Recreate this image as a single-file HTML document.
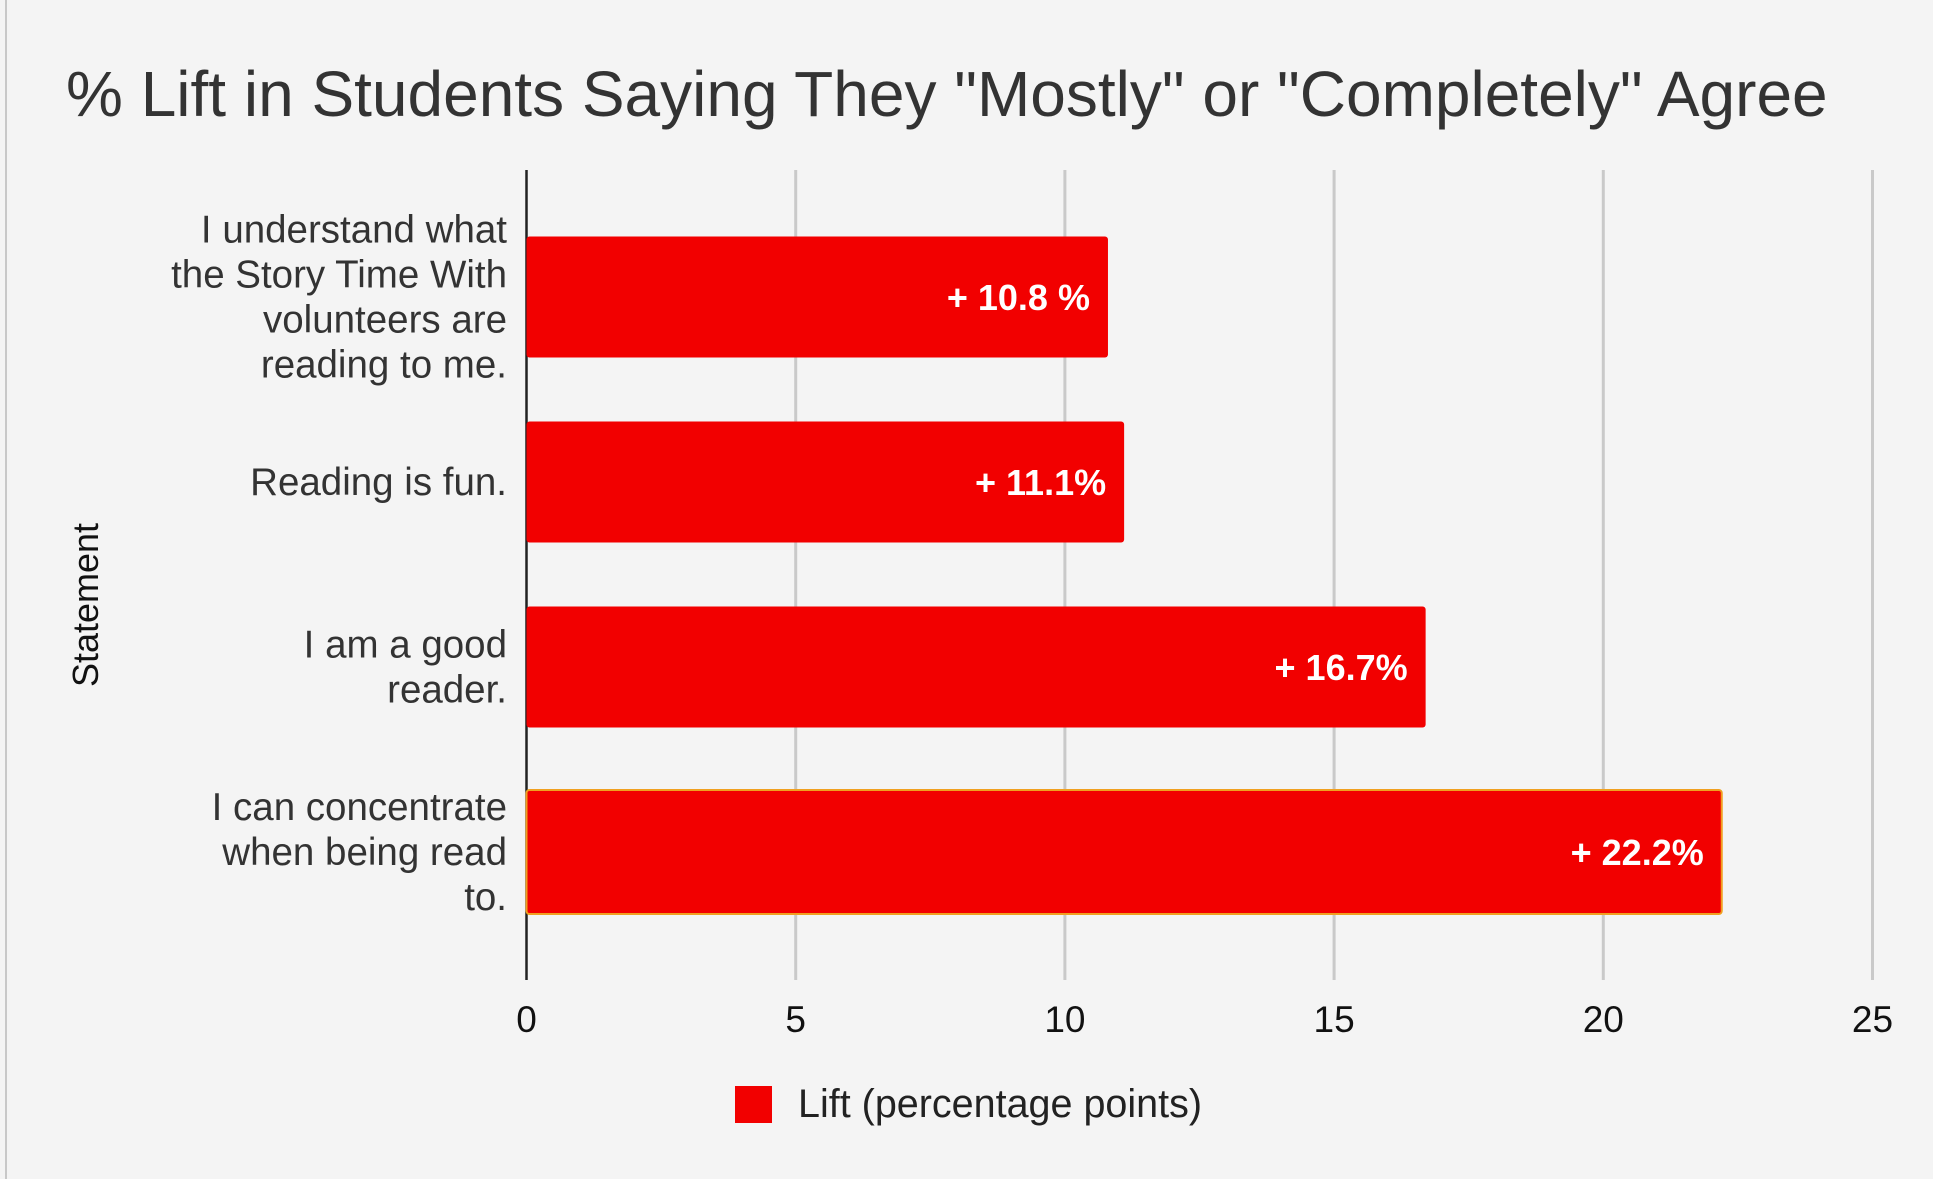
<!DOCTYPE html>
<html><head><meta charset="utf-8"><style>
html,body{margin:0;padding:0;background:#f4f4f4;}
svg{display:block;font-family:"Liberation Sans",Arial,sans-serif;}
</style></head><body>
<svg id="chart" width="1933" height="1179" viewBox="0 0 1933 1179">
<rect x="0" y="0" width="1933" height="1179" fill="#f4f4f4"/>
<line x1="6" y1="0" x2="6" y2="1179" stroke="#c8c8c8" stroke-width="2"/>
<text x="66" y="116" font-size="64" fill="#333">% Lift in Students Saying They "Mostly" or "Completely" Agree</text>
<text transform="translate(98,605) rotate(-90)" text-anchor="middle" font-size="36" fill="#111">Statement</text>
<g id="grid"></g><g id="bars"></g><g id="cats"></g><g id="ticks"></g>
<rect x="735" y="1086" width="37" height="37" fill="#f20000"/>
<text x="798" y="1117" font-size="39.5" fill="#222">Lift (percentage points)</text>
</svg>
<script>
const categories=[["I understand what","the Story Time With","volunteers are","reading to me."],["Reading is fun."],["I am a good","reader."],["I can concentrate","when being read","to."]];
const values=[10.8,11.1,16.7,22.2];
const valueLabels=["+ 10.8 %","+ 11.1%","+ 16.7%","+ 22.2%"];
const ticks=[0,5,10,15,20,25];
const NS="http://www.w3.org/2000/svg";
const x0=526.5,x1=1872.5,yTop=170,yBot=980;
const xs=v=>x0+(x1-x0)*v/25;
const yc=i=>297+185*i;
function mk(t,a,p){const e=document.createElementNS(NS,t);for(const k in a)e.setAttribute(k,a[k]);p.appendChild(e);return e;}
const grid=document.getElementById('grid'),bars=document.getElementById('bars'),cats=document.getElementById('cats'),tk=document.getElementById('ticks');
ticks.forEach(t=>{
 if(t>0){const l=mk('line',{x1:xs(t),x2:xs(t),y1:yTop,y2:yBot,stroke:'#c9c9c9','stroke-width':3},grid);
 
 }
 const tx=mk('text',{x:xs(t),y:1032,'text-anchor':'middle','font-size':37,fill:'#111'},tk);tx.textContent=t;
 
 
});
values.forEach((v,i)=>{
 const h=i===3?124:121,y=yc(i)-h/2;
 const r=mk('rect',{x:x0,y:y,width:xs(v)-x0,height:h,rx:3,fill:'#f20000'},bars);
 if(i===3){r.setAttribute('stroke','#f0a020');r.setAttribute('stroke-width','2');}
 
 
 const t=mk('text',{x:xs(v)-18,y:yc(i)+13,'text-anchor':'end','font-size':36,'font-weight':'bold',fill:'#fff'},bars);t.textContent=valueLabels[i];
 
 
 const lines=categories[i],lh=45,start=yc(i)-(lines.length-1)*lh/2+13;
 lines.forEach((s,j)=>{const c=mk('text',{x:507,y:start+j*lh,'text-anchor':'end','font-size':38.5,fill:'#333'},cats);c.textContent=s;
 
 });
});
const ax=mk('line',{x1:x0,x2:x0,y1:yTop,y2:yBot,stroke:'#222','stroke-width':2.5},grid);


</script>
</body></html>
